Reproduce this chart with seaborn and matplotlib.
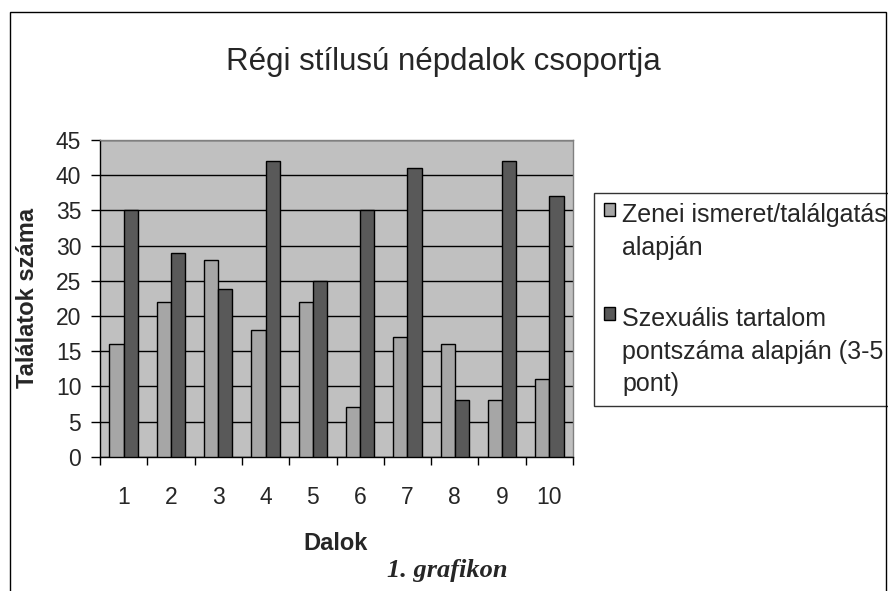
import pandas as pd
import matplotlib.pyplot as plt
import seaborn as sns
from matplotlib.patches import Rectangle

# adatok
dalok = ['1', '2', '3', '4', '5', '6', '7', '8', '9', '10']
zenei = [16, 22, 28, 18, 22, 7, 17, 16, 8, 11.1]
szexualis = [35, 29, 23.8, 42, 25, 35, 41, 8, 42, 37]
sorozatok = ['Zenei ismeret/találgatás\nalapján',
             'Szexuális tartalom\npontszáma alapján (3-5\npont)']
szinek = ['#A6A6A6', '#595959']

df = pd.DataFrame({
    'Dal': dalok * 2,
    'Találat': zenei + szexualis,
    'Sorozat': [sorozatok[0]] * len(dalok) + [sorozatok[1]] * len(dalok),
})

sns.set_style('white')
plt.rcParams['font.family'] = ['Liberation Sans', 'DejaVu Sans']

W, H = 888, 591
fig = plt.figure(figsize=(W / 100, H / 100), dpi=100)
ax = fig.add_axes([100 / W, 1 - 456.7 / H, 473 / W, 316.7 / H])
ax.set_facecolor('#C0C0C0')

sns.barplot(data=df, x='Dal', y='Találat', hue='Sorozat', palette=szinek,
            saturation=1, width=0.6, gap=0, edgecolor='black', linewidth=1,
            ax=ax, zorder=3)

ax.set_ylim(0, 45)
ax.set_xlim(-0.5, len(dalok) - 0.5)
ax.set_yticks(range(0, 46, 5))
ax.yaxis.grid(True, color='black', linewidth=1)
ax.set_axisbelow(True)
ax.set_xlabel('')
ax.set_ylabel('')

# kategória-határok tick jelei
ax.set_xticks([i - 0.5 for i in range(len(dalok) + 1)], minor=True)
ax.tick_params(axis='x', which='major', length=0, pad=21, labelsize=16.5)
ax.tick_params(axis='x', which='minor', length=5.5, width=1, direction='out',
               color='black', bottom=True)
ax.tick_params(axis='y', length=6.5, width=1, direction='out', color='black',
               left=True, pad=7, labelsize=16.5)

for s in ['left', 'bottom']:
    ax.spines[s].set_color('black')
    ax.spines[s].set_linewidth(1)
for s in ['top', 'right']:
    ax.spines[s].set_color('#808080')
    ax.spines[s].set_linewidth(1)

leg = ax.legend(loc='upper left', bbox_to_anchor=(594 / W, 1 - 193 / H),
                bbox_transform=fig.transFigure, fontsize=18, frameon=True,
                fancybox=False, shadow=False, borderaxespad=0,
                handlelength=0.42, handleheight=0.42, handletextpad=0.3,
                labelspacing=1.9, borderpad=0.4)
leg.get_frame().set_edgecolor('black')
leg.get_frame().set_linewidth(1)
for t in leg.get_texts():
    t.set_linespacing(1.45)
# jelölő az első sorhoz igazítva
for col in leg._legend_handle_box.get_children():
    for item in col.get_children():
        item.align = 'top'

fig.text(443 / W, 1 - 70 / H, 'Régi stílusú népdalok csoportja', fontsize=22.5,
         ha='center', va='baseline')
fig.text(27 / W, 1 - 298 / H, 'Találatok száma', fontsize=17,
         fontweight='bold', rotation=90, ha='center', va='center')
fig.text(336 / W, 1 - 550 / H, 'Dalok', fontsize=17, fontweight='bold',
         ha='center', va='baseline')
fig.text(387 / W, 1 - 577 / H, '1. grafikon', fontsize=19,
         family=['Liberation Serif', 'DejaVu Serif'], fontweight='bold',
         fontstyle='italic', ha='left', va='baseline')

# keret
fig.patches.append(Rectangle((10 / W, -0.05), 876 / W, (H - 12) / H + 0.05,
                             transform=fig.transFigure, fill=False,
                             edgecolor='black', linewidth=1))

fig.savefig('out.png', dpi=100)
